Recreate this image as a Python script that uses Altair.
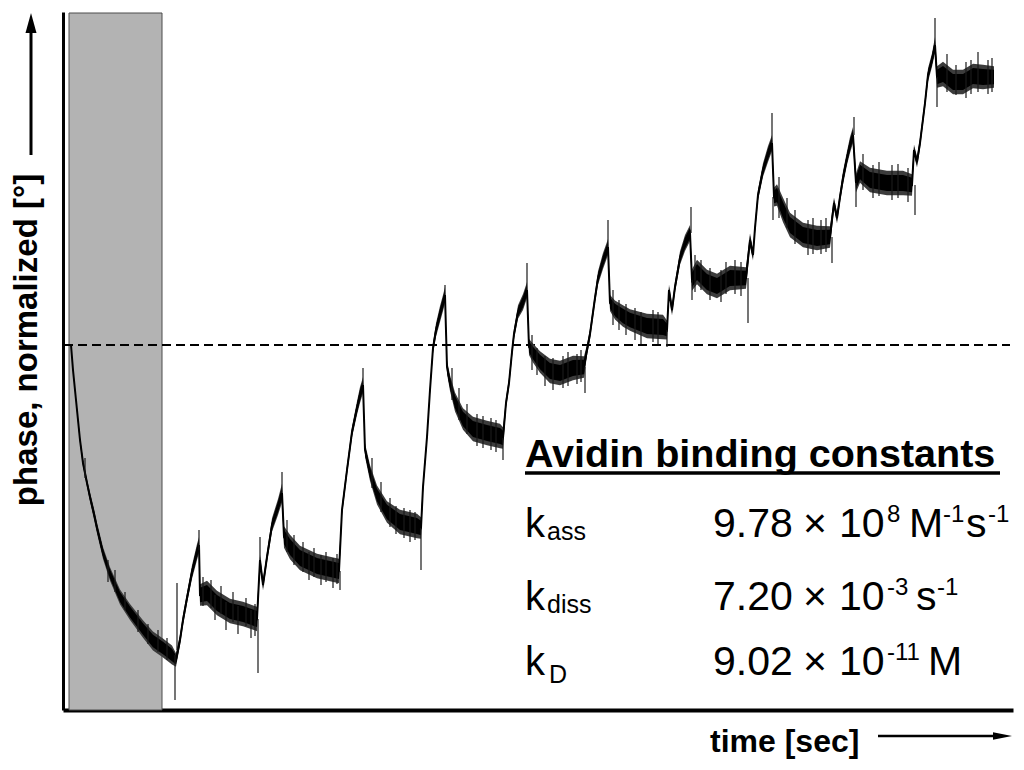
import altair as alt
import pandas as pd

# ---------------- data ----------------
# time axis (arbitrary seconds from the left axis), phase (normalized, a.u.; reference level = 365)
time_s = [8, 10, 13, 17, 20, 24, 27, 31, 34, 40, 47, 57, 67, 80, 90, 100, 109,
          113, 117, 120, 124, 129, 134, 136,
          137, 144, 154, 167, 180, 194,
          197, 200, 204, 209, 215, 219,
          221, 227, 237, 254, 267, 276,
          279, 284, 289, 294, 297, 300,
          302, 307, 314, 324, 337, 354, 358,
          360, 364, 367, 370, 373, 377, 380, 382,
          384, 387, 392, 400, 410, 424, 437, 440,
          443, 446, 449, 451, 455, 460, 464,
          466, 470, 477, 487, 497, 510, 521,
          524, 527, 532, 535, 540, 545,
          547, 552, 560, 567, 584, 600, 604,
          606, 609, 612, 617, 622, 627,
          629, 634, 644, 654, 667, 683,
          687, 690, 692, 695, 700, 705, 709,
          711, 714, 720, 727, 740, 754, 767,
          771, 774, 777, 780, 784, 787, 790,
          793, 797, 807, 824, 840, 849,
          851, 854, 857, 859, 862, 865, 869, 872,
          874, 880, 890, 900, 910, 920, 931]
phase_mid = [365, 340, 310, 270, 247, 227, 213, 196, 182, 157, 136, 113, 98, 81, 69, 62, 55,
             50, 70, 90, 112, 138, 158, 165,
             115, 117, 107, 99, 96, 91,
             150, 125, 153, 185, 203, 217,
             173, 163, 152, 144, 141, 139,
             200, 240, 278, 302, 315, 325,
             260, 237, 215, 198, 188, 184, 182,
             223, 273, 320, 362, 380, 396, 407, 415,
             343, 327, 308, 291, 281, 277, 274, 272,
             307, 327, 358, 376, 398, 408, 420,
             363, 357, 348, 339, 337, 342, 343,
             360, 376, 412, 432, 449, 463,
             407, 400, 394, 390, 384, 383, 380,
             420, 400, 423, 452, 467, 477,
             430, 438, 428, 424, 432, 432,
             470, 455, 482, 515, 540, 556, 567,
             513, 515, 500, 485, 475, 472, 473,
             507, 492, 513, 532, 552, 565, 575,
             527, 538, 530, 527, 527, 525,
             560, 548, 567, 583, 607, 635, 650, 665,
             633, 636, 628, 628, 634, 633, 633]
phase_noise = [1, 1.5, 2, 2.5, 3, 3, 3.5, 4, 4, 4.5, 5, 5.5, 6, 6.5, 7, 7, 7,
               5, 4, 4, 4, 5, 6, 6,
               8, 9, 9, 9, 9, 9,
               4, 4, 4, 5, 6, 7,
               8, 9, 9, 9, 9, 9,
               4, 4, 4, 5, 6, 6,
               5, 6, 7, 8, 9, 9, 8,
               4, 3, 3, 4, 5, 6, 6, 6,
               5, 6, 7, 8, 9, 9, 9, 8,
               4, 4, 4, 4, 5, 6, 6,
               6, 7, 8, 9, 9, 9, 8,
               4, 4, 4, 5, 6, 6,
               6, 7, 8, 8, 9, 9, 7,
               4, 4, 4, 5, 6, 6,
               8, 9, 9, 9, 9, 8,
               5, 4, 4, 4, 5, 6, 6,
               7, 8, 9, 9, 9, 9, 8,
               4, 4, 4, 5, 5, 6, 6,
               7, 8, 9, 9, 9, 8,
               4, 4, 4, 4, 4, 5, 5, 6,
               8, 9, 9, 9, 9, 9, 8]

# spikes / hairlines in the trace (time, lower end, upper end)
spike_t = [112, 114, 136, 195, 197, 219, 277, 300, 358, 382, 440, 464, 522, 545,
           604, 628, 629, 685, 709, 710, 769, 791, 793, 852, 872, 874,
           # hairlines on the dissociation plateaus
           140, 148, 152, 158, 163, 170, 175, 183, 188, 192,
           224, 231, 240, 246, 251, 258, 263, 270, 274,
           309, 318, 327, 333, 341, 347, 352,
           389, 396, 404, 414, 420, 428, 433,
           469, 474, 482, 490, 500, 505, 514, 518,
           550, 556, 563, 572, 578, 590, 595,
           632, 638, 647, 658, 663, 672, 678,
           716, 724, 732, 745, 750, 758, 763,
           800, 810, 816, 829, 835, 845,
           884, 893, 903, 908, 915, 925, 929,
           # hairlines on the initial decay
           22, 45, 52, 62, 75, 85, 95, 104]
spike_lo = [10, 60, 160, 37, 150, 217, 120, 325, 140, 415, 250, 420, 317, 463,
            363, 477, 410, 387, 567, 490, 447, 575, 503, 495, 665, 603,
            104, 102, 90, 96, 80, 88, 76, 84, 72, 74,
            158, 145, 138, 130, 133, 125, 128, 122, 126,
            222, 198, 183, 176, 172, 168, 170,
            310, 290, 276, 264, 262, 260, 258,
            340, 335, 324, 320, 322, 324, 326, 328,
            385, 380, 375, 370, 366, 368, 366,
            418, 420, 410, 408, 416, 416, 414,
            492, 482, 466, 455, 456, 456, 458,
            520, 512, 514, 510, 512, 508,
            618, 615, 612, 616, 618, 616, 618,
            232, 128, 118, 100, 78, 66, 58, 50]
spike_hi = [55, 127, 180, 91, 173, 238, 139, 342, 182, 425, 272, 447, 343, 490,
            380, 503, 430, 432, 597, 513, 473, 593, 527, 525, 692, 633,
            133, 130, 115, 124, 108, 118, 104, 112, 100, 106,
            190, 175, 168, 158, 162, 155, 158, 152, 156,
            252, 228, 212, 204, 202, 200, 198,
            342, 322, 306, 296, 294, 292, 290,
            375, 362, 354, 352, 354, 358, 356, 360,
            420, 410, 406, 402, 398, 400, 398,
            455, 450, 442, 440, 448, 450, 448,
            533, 512, 500, 490, 492, 490, 492,
            556, 545, 548, 545, 546, 542,
            656, 645, 648, 650, 658, 650, 652,
            252, 150, 140, 118, 100, 86, 80, 72]

shade_t = [6, 99]          # grey baseline period
shade_phase = [0, 697]
reference_level = 365      # dashed reference line
reference_t = [1, 947]

# ---------------- tables ----------------
trace = pd.DataFrame({"t": time_s, "phase": phase_mid, "noise": phase_noise})
trace["core_lo"] = trace["phase"] - 0.9 * trace["noise"]
trace["core_hi"] = trace["phase"] + 0.9 * trace["noise"]
trace["fuzz_lo"] = trace["phase"] - 1.35 * trace["noise"]
trace["fuzz_hi"] = trace["phase"] + 1.35 * trace["noise"]
spikes = pd.DataFrame({"t": spike_t, "lo": spike_lo, "hi": spike_hi})
shade = pd.DataFrame({"t": [shade_t[0]], "t_end": [shade_t[1]],
                      "lo": [shade_phase[0]], "hi": [shade_phase[1]]})
ref = pd.DataFrame({"t": [reference_t[0]], "t_end": [reference_t[1]],
                    "lo": [reference_level]})

W, H = 950, 698
xs = alt.Scale(domain=[0, 950], nice=False, zero=False)
ys = alt.Scale(domain=[0, 698], nice=False, zero=False)
xaxis = alt.Axis(title=None, labels=False, ticks=False, grid=False,
                 domainColor="black", domainWidth=4)
yaxis = alt.Axis(title=None, labels=False, ticks=False, grid=False,
                 domainColor="black", domainWidth=3)


def X(f):
    return alt.X(f, type="quantitative", scale=xs, axis=xaxis)


def Y(f):
    return alt.Y(f, type="quantitative", scale=ys, axis=yaxis)


shade_layer = alt.Chart(shade).mark_rect(
    fill="#b3b3b3", stroke="#4d4d4d", strokeWidth=1
).encode(x=X("t"), x2="t_end", y=Y("lo"), y2="hi")

ref_layer = alt.Chart(ref).mark_rule(
    color="black", strokeWidth=2, strokeDash=[9, 5]
).encode(x=X("t"), x2="t_end", y=Y("lo"))

fuzz_layer = alt.Chart(trace).mark_area(color="#3c3c3c").encode(
    x=X("t"), y=Y("fuzz_lo"), y2="fuzz_hi")
core_layer = alt.Chart(trace).mark_area(color="black").encode(
    x=X("t"), y=Y("core_lo"), y2="core_hi")
line_layer = alt.Chart(trace).mark_line(color="black", strokeWidth=2).encode(
    x=X("t"), y=Y("phase"))
spike_layer = alt.Chart(spikes).mark_rule(color="#1a1a1a", strokeWidth=1.2).encode(
    x=X("t"), y=Y("lo"), y2="hi")

dummy = pd.DataFrame({"_": [0]})
OX, OY = 63, 12  # page position of the plot origin
FONT = "Liberation Sans"


def label(text, x, y, size, weight="normal", align="left", angle=0):
    return alt.Chart(dummy).mark_text(
        text=text, font=FONT, fontSize=size, fontWeight=weight,
        align=align, baseline="alphabetic", angle=angle, color="black"
    ).encode(x=alt.value(x - OX), y=alt.value(y - OY))


MAIN, SUP, RAISE = 41, 24, 15


def row(pieces, y):
    """pieces: (text, left x, superscript?)"""
    return [label(t, x, y - RAISE if sup else y, SUP if sup else MAIN)
            for t, x, sup in pieces]


texts = [
    label("Avidin binding constants", 525, 467, 39.5, "bold"),
    # k rows
    label("k", 525, 537, 40), label("ass", 547, 540, 25),
    label("k", 525, 610, 40), label("diss", 547, 613, 25),
    label("k", 525, 675, 40), label("D", 549, 683, 25),
]
texts += row([("9.78", 713, False), ("×", 803, False), ("10", 839, False),
              ("8", 887, True), ("M", 909, False), ("-1", 943, True),
              ("s", 966, False), ("-1", 988, True)], 537)
texts += row([("7.20", 713, False), ("×", 803, False), ("10", 839, False),
              ("-3", 887, True), ("s", 916, False), ("-1", 937, True)], 610)
texts += row([("9.02", 713, False), ("×", 803, False), ("10", 839, False),
              ("-11", 887, True), ("M", 928, False)], 675)
texts += [
    label("time [sec]", 710, 752, 32, "bold"),
    label("phase, normalized [°]", 37, 340, 33, "bold", align="center", angle=270),
]

underline = alt.Chart(dummy).mark_rule(color="black", strokeWidth=3.5).encode(
    x=alt.value(525 - OX), x2=alt.value(1000 - OX), y=alt.value(473 - OY))

x_arrow = alt.Chart(dummy).mark_rule(color="black", strokeWidth=2.5).encode(
    x=alt.value(878 - OX), x2=alt.value(996 - OX), y=alt.value(736 - OY))
x_head = alt.Chart(dummy).mark_point(
    shape="M1,0L-1,-0.4L-1,0.4Z", filled=True, color="black", opacity=1,
    size=361, strokeWidth=0
).encode(x=alt.value(1002.5 - OX), y=alt.value(736 - OY))

y_arrow = alt.Chart(dummy).mark_rule(color="black", strokeWidth=3).encode(
    x=alt.value(31 - OX), y=alt.value(30 - OY), y2=alt.value(155 - OY))
y_head = alt.Chart(dummy).mark_point(
    shape="M0,-1L0.55,1L-0.55,1Z", filled=True, color="black", opacity=1,
    size=400, strokeWidth=0
).encode(x=alt.value(31 - OX), y=alt.value(23 - OY))

chart = alt.layer(
    shade_layer, ref_layer, fuzz_layer, core_layer, line_layer, spike_layer,
    underline, x_arrow, x_head, y_arrow, y_head, *texts
).properties(
    width=W, height=H,
    autosize=alt.AutoSizeParams(type="none"),
    padding={"left": 55, "top": 4, "right": 3, "bottom": 50},
    background="white",
).configure_view(stroke=None)

chart.save("out.html", embed_options={"renderer": "svg", "actions": False})
